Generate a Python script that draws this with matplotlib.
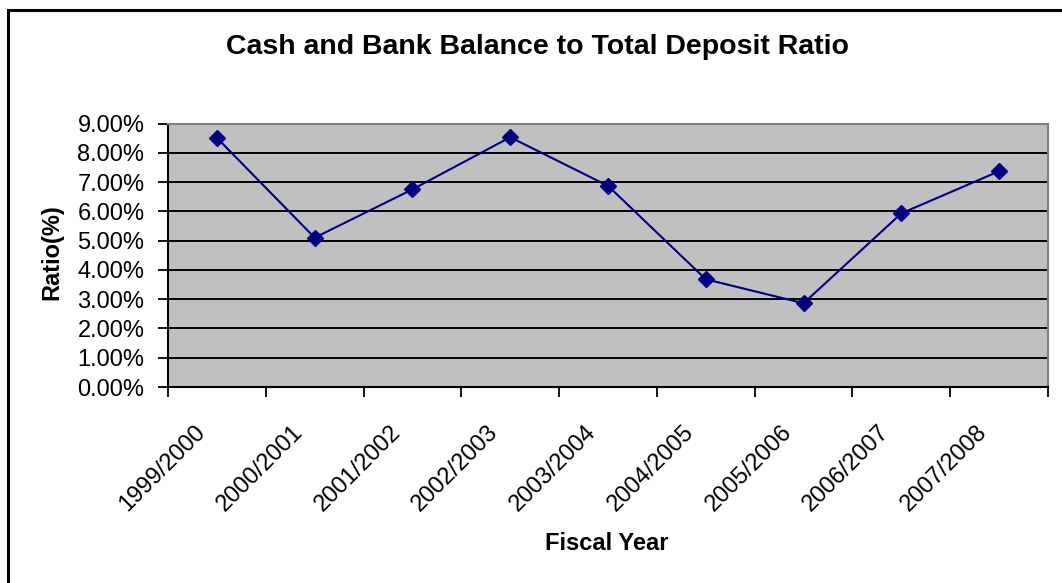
import numpy as np
import matplotlib.pyplot as plt
from matplotlib.patches import Rectangle
from matplotlib.ticker import FixedLocator, FuncFormatter

plt.rcParams['font.family'] = ['Liberation Sans', 'DejaVu Sans']

years = ["1999/2000", "2000/2001", "2001/2002", "2002/2003", "2003/2004",
         "2004/2005", "2005/2006", "2006/2007", "2007/2008"]
ratio = [8.51, 5.10, 6.75, 8.53, 6.87, 3.68, 2.86, 5.93, 7.37]

fig = plt.figure(figsize=(10.62, 5.83), dpi=100)

# chart frame
fig.patches.append(Rectangle((8 / 1062, -0.05), 1.1, 1.05 - 10 / 583,
                             transform=fig.transFigure, fill=False,
                             edgecolor='black', linewidth=2.2))

ax = fig.add_axes([168 / 1062, 1 - 387 / 583, 880 / 1062, 263.5 / 583])
ax.set_facecolor('#C0C0C0')

x = np.arange(len(years)) + 0.5
ax.plot(x, ratio, color='#000080', linewidth=1.5, marker='D',
        markersize=8, markerfacecolor='#000080', markeredgecolor='#000080',
        zorder=3)

ax.set_xlim(0, len(years))
ax.set_ylim(0, 9)

# gridlines
for v in range(1, 9):
    ax.axhline(v, color='black', linewidth=1.4, zorder=1)

ax.yaxis.set_major_locator(FixedLocator(np.arange(0, 10)))
ax.yaxis.set_major_formatter(FuncFormatter(lambda v, p: f"{v:.2f}%"))
ax.tick_params(axis='y', direction='out', length=7, width=1.3,
               labelsize=17, pad=10)

ax.xaxis.set_major_locator(FixedLocator(np.arange(0, len(years) + 1)))
ax.xaxis.set_major_formatter(FuncFormatter(lambda v, p: ""))
ax.tick_params(axis='x', direction='out', length=7, width=1.3)
for xi, lab in zip(x, years):
    ax.annotate(lab, xy=(xi, 0), xycoords=('data', 'axes fraction'),
                xytext=(-11, -30), textcoords='offset points',
                rotation=45, rotation_mode='anchor', ha='right', va='center',
                fontsize=17)

for side in ['top', 'right']:
    ax.spines[side].set_color('#808080')
    ax.spines[side].set_linewidth(1.5)
for side in ['left', 'bottom']:
    ax.spines[side].set_color('black')
    ax.spines[side].set_linewidth(1.5)

fig.text(538 / 1062, 1 - 47 / 583, "Cash and Bank Balance to Total Deposit Ratio",
         ha='center', va='center', fontsize=20.5, fontweight='bold')
fig.text(52 / 1062, 1 - 252 / 583, "Ratio(%)", ha='center', va='center',
         rotation=90, fontsize=17, fontweight='bold')
fig.text(607 / 1062, 1 - 543 / 583, "Fiscal Year", ha='center', va='center',
         fontsize=17, fontweight='bold')

fig.savefig('out.png', dpi=100)
